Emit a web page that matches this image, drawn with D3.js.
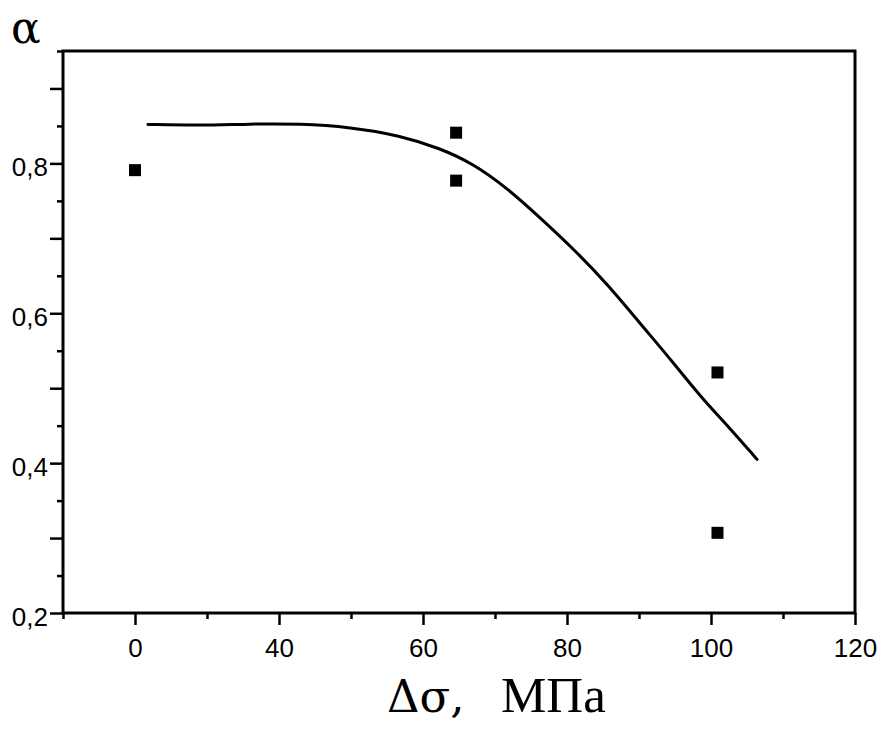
<!DOCTYPE html>
<html lang="ru">
<head>
  <meta charset="UTF-8">
  <title>alpha vs delta sigma</title>
  <script src="https://d3js.org/d3.v7.min.js"></script>
  <style>
    body { margin: 0; background: #fff; }
    .tick-label { font-family: "Liberation Sans", Arial, sans-serif; font-size: 26px; fill: #000; }
    .greek { font-family: "DejaVu Serif", serif; fill: #000; }
    .title { font-family: "Liberation Serif", "Times New Roman", serif; fill: #000; }
  </style>
</head>
<body>
<div id="chart"></div>
<script>
  // x axis: labelled major ticks and the minor ticks between them
  const xMajor = [0, 40, 60, 80, 100, 120];
  const xMinor = [-20, 20, 50, 70, 90, 110];
  // y axis
  const yMajor = [0.2, 0.3, 0.4, 0.5, 0.6, 0.7, 0.8, 0.9];
  const yLabelled = [0.2, 0.4, 0.6, 0.8];
  const yMinor = [0.25, 0.35, 0.45, 0.55, 0.65, 0.75, 0.85, 0.95];

  // measured points
  const pointX = [0, 64.6, 64.6, 100.9, 100.9];
  const pointY = [0.791, 0.841, 0.777, 0.521, 0.307];

  // fitted curve
  const curveX = [3.6, 18, 31.9, 42.9, 49.9, 56.8, 62.4, 66.9, 71.7, 76.2, 80.8, 85.6, 90.1, 94.7, 98.5, 102.6, 106.4];
  const curveY = [0.852, 0.8505, 0.8527, 0.8529, 0.8484, 0.8373, 0.820, 0.800, 0.767, 0.728, 0.687, 0.639, 0.587, 0.535, 0.489, 0.447, 0.405];

  const W = 888, H = 729;
  const mLeft = 63, mRight = 855, mTop = 51, mBottom = 613;

  const svg = d3.select("#chart").append("svg")
    .attr("width", W)
    .attr("height", H);

  // the printed axis is not uniform: first interval (0..40) is as wide as the others (20 units)
  const x = d3.scaleLinear()
    .domain([-20, 40, 120])
    .range([mLeft, 279, mRight]);

  const y = d3.scaleLinear()
    .domain([0.2, 0.95])
    .range([mBottom, mTop]);

  const fmt = d => d3.format(".1f")(d).replace(".", ",");

  // x axis ticks
  const xAxis = svg.append("g").attr("transform", `translate(0,${mBottom})`);
  xAxis.append("g")
    .call(d3.axisBottom(x).tickValues(xMinor).tickSize(6).tickSizeOuter(0).tickFormat(""))
    .call(g => g.select(".domain").remove());
  xAxis.append("g")
    .call(d3.axisBottom(x).tickValues(xMajor).tickSize(12).tickSizeOuter(0).tickPadding(14).tickFormat(d3.format("d")))
    .call(g => g.select(".domain").remove());

  // y axis ticks
  const yAxis = svg.append("g").attr("transform", `translate(${mLeft},0)`);
  yAxis.append("g")
    .call(d3.axisLeft(y).tickValues(yMinor).tickSize(6).tickSizeOuter(0).tickFormat(""))
    .call(g => g.select(".domain").remove());
  yAxis.append("g")
    .call(d3.axisLeft(y).tickValues(yMajor).tickSize(13).tickSizeOuter(0).tickPadding(2)
      .tickFormat(d => yLabelled.some(v => Math.abs(v - d) < 1e-9) ? fmt(d) : ""))
    .call(g => g.select(".domain").remove());

  svg.selectAll(".tick line").attr("stroke", "#000").attr("stroke-width", 2.5);
  svg.selectAll(".tick text")
    .attr("class", "tick-label")
    .attr("font-family", null)
    .attr("font-size", null);
  yAxis.selectAll(".tick text").attr("dy", "0.47em");

  // frame
  svg.append("rect")
    .attr("x", mLeft)
    .attr("y", mTop)
    .attr("width", mRight - mLeft)
    .attr("height", mBottom - mTop)
    .attr("fill", "none")
    .attr("stroke", "#000")
    .attr("stroke-width", 3);

  // curve
  const pts = curveX.map((v, i) => [v, curveY[i]]);
  svg.append("path")
    .datum(pts)
    .attr("fill", "none")
    .attr("stroke", "#000")
    .attr("stroke-width", 3)
    .attr("stroke-linecap", "round")
    .attr("d", d3.line().x(d => x(d[0])).y(d => y(d[1])).curve(d3.curveBasis));

  // points
  const sq = 12;
  svg.selectAll(".pt")
    .data(pointX.map((v, i) => ({ x: v, y: pointY[i] })))
    .enter().append("rect")
    .attr("class", "pt")
    .attr("x", d => x(d.x) - sq / 2)
    .attr("y", d => y(d.y) - sq / 2)
    .attr("width", sq)
    .attr("height", sq)
    .attr("fill", "#000");

  // axis titles
  svg.append("text")
    .attr("class", "greek")
    .attr("x", 11)
    .attr("y", 43)
    .attr("font-size", 44)
    .text("α");

  const xt = svg.append("text")
    .attr("y", 712);
  xt.append("tspan")
    .attr("class", "greek")
    .attr("x", 387)
    .attr("font-size", 45)
    .text("Δσ,");
  xt.append("tspan")
    .attr("class", "title")
    .attr("x", 501)
    .attr("font-size", 51)
    .text("МПа");
</script>
</body>
</html>
